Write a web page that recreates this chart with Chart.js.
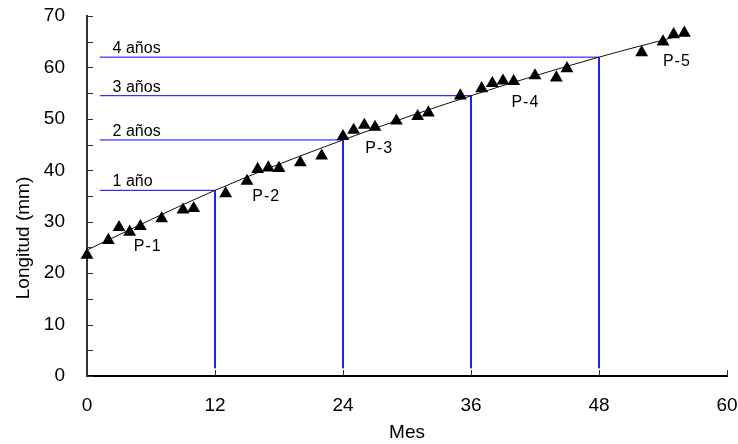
<!DOCTYPE html>
<html lang="es">
<head>
    <meta charset="UTF-8">
    <title>Longitud por mes</title>
    <script src="https://cdn.jsdelivr.net/npm/chart.js"></script>
    <style>
        body {
            margin: 0;
            padding: 0;
            background: white;
        }
        #wrap {
            width: 738px;
            height: 444px;
        }
    </style>
</head>
<body>
    <div id="wrap"><canvas id="growthChart"></canvas></div>

    <script>
        // Mediciones (mes, longitud en mm)
        const months = [0, 2, 3, 4, 5, 7, 9, 10, 13, 15, 16, 17, 18, 20, 22, 24, 25, 26, 27, 29, 31, 32, 35, 37, 38, 39, 40, 42, 44, 45, 52, 54, 55, 56];
        const lengths = [23.5, 26.4, 28.9, 28.0, 29.1, 30.6, 32.3, 32.6, 35.5, 37.9, 40.2, 40.5, 40.4, 41.5, 42.8, 46.6, 47.8, 48.8, 48.4, 49.6, 50.5, 51.2, 54.5, 55.9, 56.9, 57.4, 57.3, 58.4, 58.0, 59.8, 62.9, 65.0, 66.4, 66.7];

        // Curva ajustada
        const fitMonths = [0, 12, 24, 36, 48, 56];
        const fitLengths = [24.5, 36.1, 45.9, 54.5, 62.0, 66.4];

        // Edades
        const yearLabels = ['1 año', '2 años', '3 años', '4 años'];
        const yearMonths = [12, 24, 36, 48];
        const yearLengths = [36.1, 45.9, 54.5, 62.0];

        // Picos
        const peakLabels = ['P-1', 'P-2', 'P-3', 'P-4', 'P-5'];
        const peakMonths = [5.7, 16.8, 27.4, 41.1, 55.3];
        const peakLengths = [25.1, 34.8, 44.2, 53.1, 61.2];

        const xTicks = [0, 12, 24, 36, 48, 60];

        const font = "'Liberation Sans', Arial, sans-serif";

        const datasets = [
            {
                label: 'Longitud',
                data: months.map((m, i) => ({ x: m, y: lengths[i] })),
                pointStyle: 'triangle',
                pointRadius: 7.4,
                backgroundColor: '#000',
                borderColor: '#000',
                borderWidth: 0,
                showLine: false,
                clip: false
            },
            {
                label: 'Ajuste',
                data: fitMonths.map((m, i) => ({ x: m, y: fitLengths[i] })),
                showLine: true,
                pointRadius: 0,
                borderColor: '#111',
                borderWidth: 1,
                cubicInterpolationMode: 'monotone',
                fill: false
            }
        ];

        // lineas de cada edad: horizontal desde el eje y vertical hasta abajo
        yearMonths.forEach((m, i) => {
            datasets.push({
                label: yearLabels[i],
                data: [
                    { x: 1.2, y: yearLengths[i] },
                    { x: m, y: yearLengths[i] },
                    { x: m, y: 1.5 }
                ],
                showLine: true,
                pointRadius: 0,
                borderColor: '#0000ff',
                borderWidth: 1,
                tension: 0,
                fill: false
            });
        });

        const extras = {
            id: 'extras',
            afterDraw(chart) {
                const { ctx, chartArea, scales: { x, y } } = chart;
                ctx.save();

                // marcas hacia dentro
                ctx.strokeStyle = '#333';
                ctx.lineWidth = 1;
                ctx.beginPath();
                xTicks.forEach(v => {
                    const px = Math.round(x.getPixelForValue(v)) + 0.5;
                    ctx.moveTo(px, chartArea.bottom);
                    ctx.lineTo(px, chartArea.bottom - 6);
                });
                for (let v = 0; v <= 70; v += 5) {
                    const py = Math.round(y.getPixelForValue(v)) + 0.5;
                    ctx.moveTo(chartArea.left, py);
                    ctx.lineTo(chartArea.left + 6, py);
                }
                ctx.stroke();

                ctx.fillStyle = '#000';

                // etiquetas de edad
                ctx.font = '16px ' + font;
                ctx.textAlign = 'left';
                ctx.textBaseline = 'alphabetic';
                yearLabels.forEach((t, i) => {
                    ctx.fillText(t, x.getPixelForValue(2.4), y.getPixelForValue(yearLengths[i]) - 4);
                });

                // etiquetas de picos
                ctx.font = '16px ' + font;
                ctx.textAlign = 'center';
                ctx.textBaseline = 'middle';
                ctx.letterSpacing = '1px';
                peakLabels.forEach((t, i) => {
                    ctx.fillText(t, x.getPixelForValue(peakMonths[i]), y.getPixelForValue(peakLengths[i]));
                });
                ctx.letterSpacing = '0px';

                // titulo del eje y
                ctx.font = '19px ' + font;
                ctx.translate(24, 238);
                ctx.rotate(-Math.PI / 2);
                ctx.fillText('Longitud (mm)', 0, 0);

                ctx.restore();
            }
        };

        const ctx = document.getElementById('growthChart').getContext('2d');
        new Chart(ctx, {
            type: 'scatter',
            data: { datasets: datasets },
            options: {
                responsive: true,
                maintainAspectRatio: false,
                animation: false,
                layout: {
                    padding: { top: 16, right: 11, bottom: 0, left: 0 }
                },
                plugins: {
                    legend: { display: false },
                    tooltip: { enabled: false }
                },
                scales: {
                    x: {
                        type: 'linear',
                        min: 0,
                        max: 60,
                        afterBuildTicks: s => { s.ticks = xTicks.map(v => ({ value: v })); },
                        afterFit: s => {
                            s.height = 68;
                            s.paddingLeft = 0;
                            s.paddingRight = 0;
                        },
                        grid: { display: true, drawOnChartArea: false, drawTicks: false },
                        border: { color: '#000', width: 2 },
                        ticks: {
                            color: '#000',
                            font: { family: font, size: 19 },
                            padding: 18,
                            maxRotation: 0
                        },
                        title: {
                            display: true,
                            text: 'Mes',
                            color: '#000',
                            font: { family: font, size: 19 },
                            padding: { top: 0, bottom: 0 }
                        }
                    },
                    y: {
                        min: 0,
                        max: 70,
                        afterFit: s => {
                            s.width = 87;
                            s.paddingTop = 0;
                            s.paddingBottom = 0;
                        },
                        grid: { display: true, drawOnChartArea: false, drawTicks: false },
                        border: { color: '#333', width: 2 },
                        ticks: {
                            stepSize: 5,
                            autoSkip: false,
                            color: '#000',
                            font: { family: font, size: 19 },
                            padding: 22,
                            callback: v => (v % 10 === 0 ? v : '')
                        }
                    }
                }
            },
            plugins: [extras]
        });
    </script>
</body>
</html>
